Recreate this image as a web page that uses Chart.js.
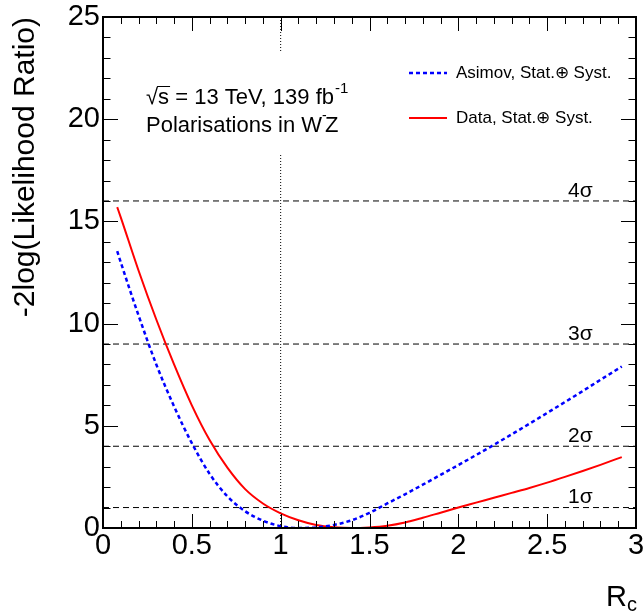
<!DOCTYPE html>
<html>
<head>
<meta charset="utf-8">
<script src="https://cdn.jsdelivr.net/npm/chart.js@4.4.0/dist/chart.umd.min.js"></script>
<style>
  html, body { margin: 0; padding: 0; background: #fff; }
</style>
</head>
<body>
<canvas id="myChart" width="643" height="616"></canvas>
<script>
// curves: R_c and -2 log(L ratio)
var rcAsimov = [0.08, 0.1, 0.2, 0.3, 0.4, 0.5, 0.6, 0.7, 0.8, 0.9, 1.0, 1.1, 1.2, 1.3, 1.4, 1.5, 1.6, 1.7, 1.8, 1.9, 2.0, 2.1, 2.2, 2.3, 2.4, 2.5, 2.6, 2.7, 2.8, 2.92];
var nllAsimov = [13.55, 13.0, 10.4, 8.0, 5.95, 4.15, 2.65, 1.55, 0.82, 0.36, 0.09, 0.0, 0.03, 0.15, 0.38, 0.74, 1.2, 1.65, 2.12, 2.6, 3.08, 3.57, 4.07, 4.58, 5.1, 5.63, 6.16, 6.7, 7.25, 7.9];
var rcData = [0.08, 0.1, 0.2, 0.3, 0.4, 0.5, 0.6, 0.7, 0.8, 0.9, 1.0, 1.1, 1.2, 1.3, 1.4, 1.5, 1.6, 1.7, 1.8, 1.9, 2.0, 2.1, 2.2, 2.3, 2.4, 2.5, 2.6, 2.7, 2.8, 2.92];
var nllData = [15.7, 15.2, 12.6, 10.2, 8.0, 6.0, 4.3, 2.95, 1.9, 1.2, 0.72, 0.38, 0.15, 0.04, 0.0, 0.03, 0.11, 0.27, 0.5, 0.75, 1.0, 1.24, 1.48, 1.72, 1.96, 2.22, 2.5, 2.79, 3.09, 3.47];

var sigmaLevels = [1, 4, 9, 16];
var sigmaLabels = ['1\u03c3', '2\u03c3', '3\u03c3', '4\u03c3'];
var smValue = 1;

var seriesLabels = ['Asimov, Stat.\u2295 Syst.', 'Data, Stat.\u2295 Syst.'];

var FONT = '"Liberation Sans", Arial, Helvetica, sans-serif';
Chart.defaults.font.family = FONT;
Chart.defaults.color = '#000';

function pts(xs, ys) {
  return xs.map(function (x, i) { return { x: x, y: ys[i] }; });
}

var datasets = [
  { label: seriesLabels[0], data: pts(rcAsimov, nllAsimov), borderColor: '#0000ff', borderWidth: 2.5, borderDash: [4, 3], pointRadius: 0, cubicInterpolationMode: 'monotone', fill: false },
  { label: seriesLabels[1], data: pts(rcData, nllData), borderColor: '#ff0000', borderWidth: 2, pointRadius: 0, cubicInterpolationMode: 'monotone', fill: false }
];
sigmaLevels.forEach(function (lvl) {
  datasets.push({ label: '', data: [{ x: 0, y: lvl }, { x: 3, y: lvl }], borderColor: '#000', borderWidth: 1, borderDash: [6, 4], pointRadius: 0 });
});
datasets.push({ label: '', data: [{ x: smValue, y: 0 }, { x: smValue, y: 25 }], borderColor: '#000', borderWidth: 1, borderDash: [1, 2], pointRadius: 0 });

var rootStyle = {
  id: 'rootStyle',
  afterDatasetsDraw: function (chart) {
    var ctx = chart.ctx, a = chart.chartArea;
    var xs = chart.scales.x, ys = chart.scales.y;
    ctx.save();

    // white pave behind the text block
    ctx.fillStyle = '#fff';
    ctx.fillRect(135, 52, 240, 101);

    // ticks on all four sides
    ctx.strokeStyle = '#000';
    ctx.lineWidth = 1;
    ctx.beginPath();
    for (var i = 0; i <= 30; i++) {
      var px = Math.round(xs.getPixelForValue(i / 10)) + 0.5;
      var len = i % 5 === 0 ? 14 : 7;
      ctx.moveTo(px, a.bottom); ctx.lineTo(px, a.bottom - len);
      ctx.moveTo(px, a.top); ctx.lineTo(px, a.top + len);
    }
    for (var j = 0; j <= 25; j++) {
      var py = Math.round(ys.getPixelForValue(j)) + 0.5;
      var len2 = j % 5 === 0 ? 15 : 7.5;
      ctx.moveTo(a.left, py); ctx.lineTo(a.left + len2, py);
      ctx.moveTo(a.right, py); ctx.lineTo(a.right - len2, py);
    }
    ctx.stroke();

    // frame
    ctx.lineWidth = 2;
    ctx.strokeRect(a.left, a.top, a.right - a.left, a.bottom - a.top);

    ctx.fillStyle = '#000';
    ctx.textBaseline = 'middle';
    ctx.textAlign = 'left';

    // sigma labels
    ctx.font = '21px ' + FONT;
    sigmaLevels.forEach(function (lvl, k) {
      ctx.fillText(sigmaLabels[k], 568, ys.getPixelForValue(lvl) - 10);
    });

    // legend
    var ds = chart.data.datasets;
    var legY = [73, 118];
    ctx.font = '17px ' + FONT;
    for (var m = 0; m < 2; m++) {
      ctx.save();
      ctx.strokeStyle = ds[m].borderColor;
      ctx.lineWidth = ds[m].borderWidth;
      ctx.setLineDash(ds[m].borderDash || []);
      ctx.beginPath();
      ctx.moveTo(409, legY[m]); ctx.lineTo(447, legY[m]);
      ctx.stroke();
      ctx.restore();
      ctx.fillText(ds[m].label, 456, legY[m]);
    }

    // info text
    ctx.font = '22px ' + FONT;
    var x0 = 146, y1 = 98;
    ctx.fillText('\u221a', x0, y1);
    var wr = ctx.measureText('\u221a').width;
    ctx.fillText('s', x0 + wr, y1);
    var ws = ctx.measureText('s').width;
    ctx.lineWidth = 1;
    ctx.beginPath();
    ctx.moveTo(x0 + wr - 1, y1 - 11.5); ctx.lineTo(x0 + wr + ws + 1, y1 - 11.5);
    ctx.stroke();
    var rest = ' = 13 TeV, 139 fb';
    ctx.fillText(rest, x0 + wr + ws, y1);
    var wrest = ctx.measureText(rest).width;
    ctx.font = '15px ' + FONT;
    ctx.fillText('-1', x0 + wr + ws + wrest + 1, y1 - 9);

    ctx.font = '22px ' + FONT;
    var y2 = 126;
    var t2 = 'Polarisations in W';
    ctx.fillText(t2, x0, y2);
    var w2 = ctx.measureText(t2).width;
    ctx.font = '14px ' + FONT;
    ctx.fillText('-', x0 + w2, y2 - 10);
    ctx.font = '22px ' + FONT;
    ctx.fillText('Z', x0 + w2 + 3, y2);

    // x-axis title R_c
    ctx.font = '29px ' + FONT;
    ctx.fillText('R', 606, 598);
    ctx.font = '20px ' + FONT;
    ctx.fillText('c', 627, 605);

    ctx.restore();
  }
};

var ctx = document.getElementById('myChart').getContext('2d');
var chart = new Chart(ctx, {
  type: 'line',
  data: { datasets: datasets },
  options: {
    responsive: false,
    animation: false,
    devicePixelRatio: 1,
    layout: { padding: { top: 17, right: 7, left: 0, bottom: 0 } },
    plugins: { legend: { display: false }, tooltip: { enabled: false } },
    scales: {
      x: {
        type: 'linear', min: 0, max: 3,
        grid: { display: false, drawTicks: false },
        border: { display: false },
        ticks: {
          stepSize: 0.5, padding: 1, font: { size: 29 }, color: '#000', maxRotation: 0,
          callback: function (v) { return String(Number(v.toFixed(1))); }
        },
        afterFit: function (s) { s.height = 88; s.paddingLeft = 0; s.paddingRight = 0; }
      },
      y: {
        type: 'linear', min: 0, max: 25,
        grid: { display: false, drawTicks: false },
        border: { display: false },
        ticks: { stepSize: 5, padding: 3, font: { size: 29 }, color: '#000' },
        title: { display: true, text: '-2log(Likelihood Ratio)', align: 'end', font: { size: 30 }, color: '#000', padding: { top: 8, bottom: 0 } },
        afterFit: function (s) { s.width = 103; s.paddingTop = 0; s.paddingBottom = 0; }
      }
    }
  },
  plugins: [rootStyle]
});
</script>
</body>
</html>
